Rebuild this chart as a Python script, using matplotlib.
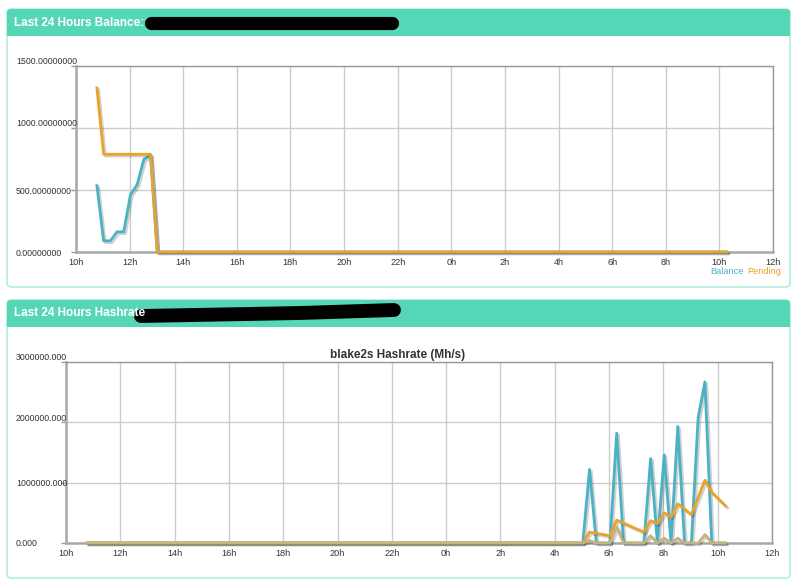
import matplotlib
matplotlib.use('Agg')
import numpy as np
import matplotlib.pyplot as plt
import matplotlib.patheffects as pe
from matplotlib.patches import FancyBboxPatch, Rectangle
from matplotlib.lines import Line2D

plt.rcParams['font.family'] = ['Liberation Sans', 'DejaVu Sans']

W, H = 800, 585

# ---- data (hours since midnight of day 1) ----
bal_hours = [10.78, 11.03, 11.28, 11.53, 11.78, 12.03, 12.28, 12.53, 12.78, 13.03, 34.28]
bal_balance = [535, 90, 90, 163, 163, 462, 543, 747, 780, 0, 0]
bal_pending = [1323, 788, 788, 788, 788, 788, 788, 788, 788, 0, 0]

hr_teal_hours = [10.78, 29.03, 29.28, 29.53, 30.03, 30.28, 30.53, 31.28, 31.53, 31.78,
                 32.03, 32.28, 32.53, 32.78, 33.03, 33.28, 33.53, 33.78, 34.28]
hr_teal = [0, 0, 1.22, 0, 0, 1.82, 0, 0, 1.40, 0, 1.46, 0, 1.93, 0, 0, 2.08, 2.67, 0, 0]

hr_orange_hours = [10.78, 29.03, 29.28, 30.03, 30.28, 31.28, 31.53, 31.78, 32.03,
                   32.28, 32.53, 33.03, 33.53, 33.78, 34.3]
hr_orange = [0, 0, 0.18, 0.12, 0.38, 0.18, 0.37, 0.32, 0.50, 0.43, 0.65, 0.47, 1.04, 0.84, 0.61]

hr_tan_hours = [10.78, 29.03, 29.28, 29.53, 30.03, 30.28, 30.53, 31.28, 31.53, 31.78,
                32.03, 32.28, 32.53, 32.78, 33.28, 33.53, 33.78, 34.28]
hr_tan = [0, 0, 0.04, 0, 0, 0.27, 0, 0, 0.12, 0, 0.08, 0, 0.08, 0, 0, 0.14, 0, 0]

x_ticks = list(range(10, 37, 2))
x_labels = ['%dh' % (h % 24) for h in x_ticks]
bal_yticks = [0, 500, 1000, 1500]
bal_ylabels = ['0.00000000', '500.00000000', '1000.00000000', '1500.00000000']
hr_yticks = [0, 1e6, 2e6, 3e6]
hr_ylabels = ['0.000', '1000000.000', '2000000.000', '3000000.000']

TEAL = '#4bb2c5'
ORANGE = '#eaa228'
TAN = '#c5b47f'
HEADER = '#55d6b7'
BORDER = '#b4ecdf'


def fx(px):
    return px / W


def fy(py):
    return 1 - py / H


fig = plt.figure(figsize=(8, 5.85), dpi=100)
fig.patch.set_facecolor('white')


def panel(top, bottom, title):
    body = FancyBboxPatch((fx(7), fy(bottom)), fx(790) - fx(7), fy(top) - fy(bottom),
                          boxstyle='round,pad=0,rounding_size=0.006', transform=fig.transFigure,
                          facecolor='white', edgecolor=BORDER, lw=1.2, zorder=-3)
    fig.patches.append(body)
    head = Rectangle((fx(7), fy(top + 27)), fx(790) - fx(7), fy(top) - fy(top + 27),
                     transform=fig.transFigure, facecolor=HEADER, edgecolor='none', zorder=-2)
    head.set_clip_path(body)
    fig.patches.append(head)
    fig.text(fx(14), fy(top + 13.5), title, color='white', fontsize=8.5, fontweight='bold',
             va='center', ha='left')


panel(9, 287, 'Last 24 Hours Balance:')
panel(300, 578, 'Last 24 Hours Hashrate')

# redaction scribbles
fig.lines.append(Line2D([fx(151), fx(392)], [fy(23), fy(23)], transform=fig.transFigure,
                        color='black', lw=9.5, solid_capstyle='round', zorder=2))
fig.lines.append(Line2D([fx(141), fx(300), fx(394)], [fy(316), fy(313), fy(310)],
                        transform=fig.transFigure, color='black', lw=10, solid_capstyle='round', zorder=2))

shadow = [pe.SimpleLineShadow(offset=(1.3, -1.3), shadow_color='black', alpha=0.18), pe.Normal()]


def style_axes(ax, yticks, ylabels, dx, ymax):
    ax.set_facecolor('white')
    ax.set_xlim(10, 36)
    ax.set_ylim(0, ymax)
    ax.set_xticks(x_ticks)
    ax.set_xticklabels(x_labels, fontsize=6.6, color='#333333')
    ax.set_yticks(yticks)
    ax.set_yticklabels([])
    ax.grid(True, color='#cccccc', lw=1)
    ax.set_axisbelow(True)
    ax.tick_params(axis='x', length=0, pad=4)
    ax.tick_params(axis='y', length=3.5, color='#999999', width=1)
    for s in ['top', 'right']:
        ax.spines[s].set_color('#999999')
        ax.spines[s].set_linewidth(1)
    for s in ['left', 'bottom']:
        ax.spines[s].set_color('#a8a8a8')
        ax.spines[s].set_linewidth(1.8)
    for v, lbl in zip(yticks, ylabels):
        dy = 5 if v >= ymax * 0.6 else 0
        ax.annotate(lbl, xy=(0, v), xycoords=('axes fraction', 'data'),
                    xytext=(-dx, dy - 1), textcoords='offset pixels',
                    ha='left', va='center', fontsize=6.3, color='#333333', annotation_clip=False)


# ---- balance chart ----
ax1 = fig.add_axes([fx(76), fy(252), fx(773) - fx(76), fy(66) - fy(252)])
style_axes(ax1, bal_yticks, bal_ylabels, 60, 1500)
ax1.plot(bal_hours, bal_balance, color=TEAL, lw=2, path_effects=shadow, clip_on=False, zorder=3)
ax1.plot(bal_hours, bal_pending, color=ORANGE, lw=2, path_effects=shadow, clip_on=False, zorder=3)
fig.text(fx(744), fy(271), 'Balance', color=TEAL, fontsize=6.7, ha='right', va='center')
fig.text(fx(747), fy(271), 'Pending', color=ORANGE, fontsize=6.7, ha='left', va='center')

# ---- hashrate chart ----
ax2 = fig.add_axes([fx(66), fy(543), fx(772) - fx(66), fy(362) - fy(543)])
style_axes(ax2, hr_yticks, hr_ylabels, 50, 3e6)
ax2.plot(hr_teal_hours, np.array(hr_teal) * 1e6, color=TEAL, lw=2, path_effects=shadow, clip_on=False, zorder=3)
ax2.plot(hr_orange_hours, np.array(hr_orange) * 1e6, color=ORANGE, lw=2, path_effects=shadow, clip_on=False, zorder=3)
ax2.plot(hr_tan_hours, np.array(hr_tan) * 1e6, color=TAN, lw=2, path_effects=shadow, clip_on=False, zorder=3)
fig.text(fx(398), fy(355), 'blake2s Hashrate (Mh/s)', fontsize=8.5, fontweight='bold',
         color='#333333', ha='center', va='center')

fig.savefig('out.png', dpi=100)
